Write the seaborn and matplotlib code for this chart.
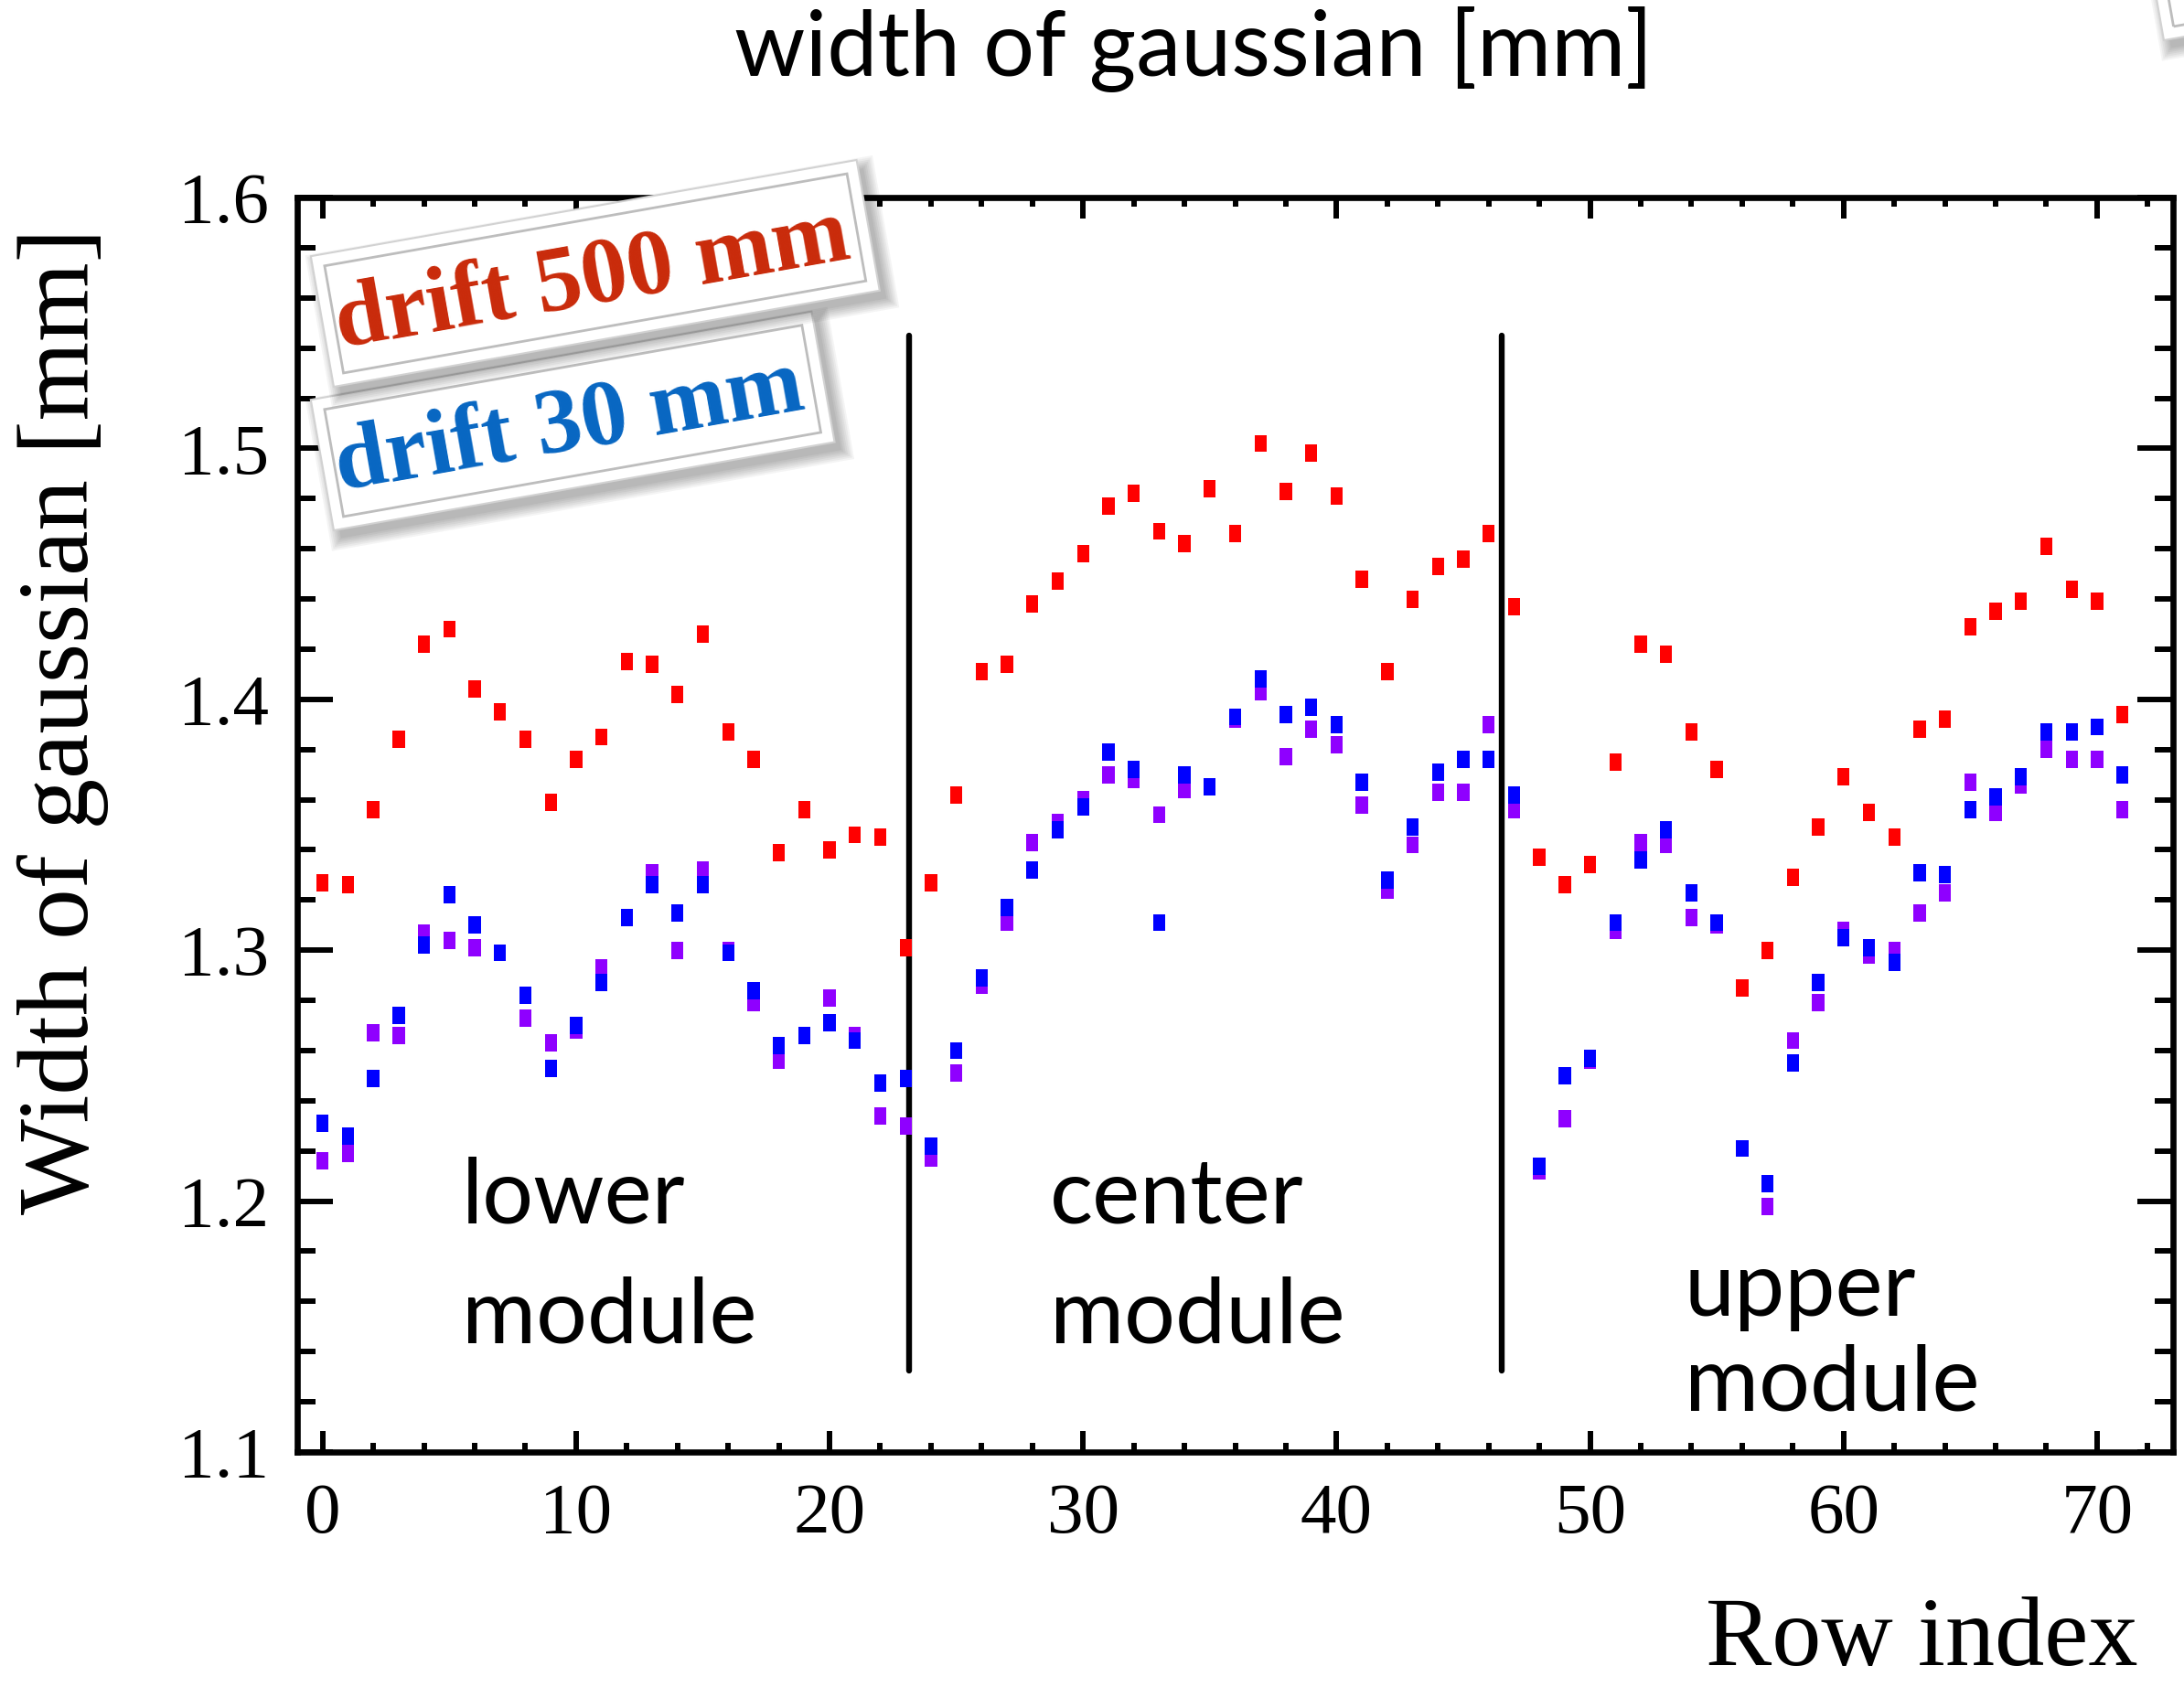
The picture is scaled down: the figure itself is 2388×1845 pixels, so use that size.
import numpy as np
import pandas as pd
import seaborn as sns
import matplotlib
matplotlib.use("Agg")
import matplotlib.pyplot as plt
from matplotlib.path import Path
from matplotlib.patches import Rectangle
import matplotlib.transforms as mtransforms
from matplotlib.ticker import MultipleLocator

# ---- data: width of the fitted gaussian per pad row ----
row_index = list(range(72))

width_drift500 = [
    1.327, 1.326, 1.356, 1.384, 1.422, 1.428, 1.404, 1.395, 1.384, 1.359,
    1.376, 1.385, 1.415, 1.414, 1.402, 1.426, 1.387, 1.376, 1.339, 1.356,
    1.340, 1.346, 1.345, 1.301, 1.327, 1.362, 1.411, 1.414, 1.438, 1.447,
    1.458, 1.477, 1.482, 1.467, 1.462, 1.484, 1.466, 1.502, 1.483, 1.498,
    1.481, 1.448, 1.411, 1.440, 1.453, 1.456, 1.466, 1.437, 1.337, 1.326,
    1.334, 1.375, 1.422, 1.418, 1.387, 1.372, 1.285, 1.300, 1.329, 1.349,
    1.369, 1.355, 1.345, 1.388, 1.392, 1.429, 1.435, 1.439, 1.461, 1.444,
    1.439, 1.394,
]

width_drift30_a = [
    1.216, 1.219, 1.267, 1.266, 1.307, 1.304, 1.301, 1.299, 1.273, 1.263,
    1.268, 1.293, 1.313, 1.331, 1.300, 1.332, 1.300, 1.279, 1.256, 1.266,
    1.281, 1.266, 1.234, 1.230, 1.217, 1.251, 1.286, 1.311, 1.343, 1.351,
    1.360, 1.370, 1.368, 1.354, 1.364, 1.365, 1.392, 1.403, 1.377, 1.388,
    1.382, 1.358, 1.324, 1.342, 1.363, 1.363, 1.390, 1.356, 1.212, 1.233,
    1.256, 1.308, 1.343, 1.342, 1.313, 1.310, 1.221, 1.198, 1.264, 1.279,
    1.308, 1.298, 1.300, 1.315, 1.323, 1.367, 1.355, 1.366, 1.380, 1.376,
    1.376, 1.356,
]

width_drift30_b = [
    1.231, 1.226, 1.249, 1.274, 1.302, 1.322, 1.310, 1.299, 1.282, 1.253,
    1.270, 1.287, 1.313, 1.326, 1.315, 1.326, 1.299, 1.284, 1.262, 1.266,
    1.271, 1.264, 1.247, 1.249, 1.222, 1.260, 1.289, 1.317, 1.332, 1.348,
    1.357, 1.379, 1.372, 1.311, 1.370, 1.365, 1.393, 1.408, 1.394, 1.397,
    1.390, 1.367, 1.328, 1.349, 1.371, 1.376, 1.376, 1.362, 1.214, 1.250,
    1.257, 1.311, 1.336, 1.348, 1.323, 1.311, 1.221, 1.207, 1.255, 1.287,
    1.305, 1.301, 1.295, 1.331, 1.330, 1.356, 1.361, 1.369, 1.387, 1.387,
    1.389, 1.370,
]

series_names = ["drift500", "drift30_a", "drift30_b"]
series_colors = ["#ff0000", "#8f00ff", "#0000ff"]

module_boundaries = [23.15, 46.5]
module_labels = [("lower", "module"), ("center", "module"), ("upper", "module")]

# ---- style ----
sns.set_theme(style="ticks")
plt.rcParams["font.family"] = ["Liberation Serif", "DejaVu Serif"]
plt.rcParams["axes.linewidth"] = 4.8
for key in ["text.color", "axes.labelcolor", "xtick.color", "ytick.color", "axes.edgecolor"]:
    plt.rcParams[key] = "black"

W, H = 2388, 1845
fig = plt.figure(figsize=(W / 100, H / 100), dpi=100)
fig.patch.set_facecolor("white")
ax = fig.add_axes([0.1361, 0.1393, 0.8589, 0.7436])
ax.set_facecolor("white")

df = pd.DataFrame({
    "row": row_index * 3,
    "width": width_drift500 + width_drift30_a + width_drift30_b,
    "series": sum([[n] * len(row_index) for n in series_names], []),
})

# tall rectangular point marker
rect_marker = Path([(-6, -8.5), (6, -8.5), (6, 8.5), (-6, 8.5), (-6, -8.5)],
                   [Path.MOVETO, Path.LINETO, Path.LINETO, Path.LINETO, Path.CLOSEPOLY])

sns.scatterplot(data=df, x="row", y="width", hue="series",
                palette=dict(zip(series_names, series_colors)),
                hue_order=series_names, marker=rect_marker, s=185,
                linewidth=0, edgecolor="none", legend=False, ax=ax, zorder=3)

# module separators
for xb in module_boundaries:
    ax.plot([xb, xb], [1.1324, 1.545], color="black", lw=4.6, zorder=2)

# module labels
label_font = ["Lato", "DejaVu Sans"]
label_pos = [(5.5, 1.1913, 1.1437), (28.7, 1.1913, 1.1437), (53.72, 1.1543, 1.1164)]
for (l1, l2), (xl, y1, y2) in zip(module_labels, label_pos):
    ax.text(xl, y1, l1, fontsize=71, family=label_font, color="black",
            ha="left", va="baseline", zorder=4)
    ax.text(xl, y2, l2, fontsize=71, family=label_font, color="black",
            ha="left", va="baseline", zorder=4)

ax.set_xlim(-1, 73)
ax.set_ylim(1.1, 1.6)
ax.xaxis.set_major_locator(MultipleLocator(10))
ax.xaxis.set_minor_locator(MultipleLocator(2))
ax.yaxis.set_major_locator(MultipleLocator(0.1))
ax.yaxis.set_minor_locator(MultipleLocator(0.02))
ax.set_yticks([1.1, 1.2, 1.3, 1.4, 1.5, 1.6])
ax.set_yticklabels(["1.1", "1.2", "1.3", "1.4", "1.5", "1.6"])
ax.set_xticks([0, 10, 20, 30, 40, 50, 60, 70])

ax.tick_params(axis="both", which="both", direction="in", top=True, right=True,
               width=4.3, colors="black")
ax.tick_params(axis="x", which="major", length=16.5, labelsize=57, pad=24)
ax.tick_params(axis="x", which="minor", length=7.5)
ax.tick_params(axis="y", which="major", length=28, labelsize=57, pad=22)
ax.tick_params(axis="y", which="minor", length=14.4)
for sp in ax.spines.values():
    sp.set_color("black")
    sp.set_linewidth(4.8)
ax.set_xlabel("")
ax.set_ylabel("")

# axis titles
fig.text(69 / W, 1 - 789 / H, "Width of gaussian [mm]", rotation=90,
         ha="center", va="center", fontsize=80, color="black")
fig.text(2338 / W, 1 - 1821 / H, "Row index", ha="right", va="baseline",
         fontsize=78, color="black")

# headline
fig.text(1305 / W, 1 - 83 / H, "width of gaussian [mm]", ha="center", va="baseline",
         fontsize=71, family=label_font, color="black")

# ---- tilted legend cards ----
ident = mtransforms.IdentityTransform()


def card(bl_x, bl_y_img, w, h, angle, z):
    """White card with inner frame and soft drop shadow; bl given in image pixels."""
    tr = mtransforms.Affine2D().rotate_deg(angle).translate(bl_x, H - bl_y_img)
    for k in range(7):
        g = 2 * k
        fig.add_artist(Rectangle((6 - g, -10 - g), w + 2 * g, h + 2 * g,
                                 transform=tr, facecolor="black", edgecolor="none",
                                 alpha=0.045, zorder=z))
    fig.add_artist(Rectangle((0, 0), w, h, transform=tr, facecolor="white",
                             edgecolor="#d2d2d2", lw=1.5, zorder=z + 0.1))
    fig.add_artist(Rectangle((13, 13), w - 26, h - 26, transform=tr, facecolor="none",
                             edgecolor="#bdbdbd", lw=2.0, zorder=z + 0.2))


card(2366, 44, 600, 145, 10, 10)
card(365, 580, 556, 145, 10, 11)
card(365, 423, 606, 145, 10, 12)

fig.text(372, H - 537, "drift 30 mm", transform=ident, rotation=10, rotation_mode="anchor",
         ha="left", va="baseline", fontsize=73, fontweight="bold", color="#0766c2", zorder=11.5)
fig.text(372, H - 381, "drift 500 mm", transform=ident, rotation=10, rotation_mode="anchor",
         ha="left", va="baseline", fontsize=73, fontweight="bold", color="#c92a0a", zorder=12.5)

fig.savefig("out.png", dpi=100, facecolor="white")
